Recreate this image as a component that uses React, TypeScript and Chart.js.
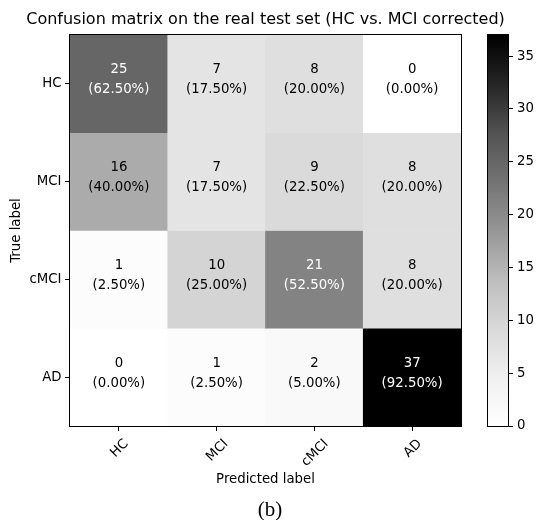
import React, { useEffect, useRef } from 'react';
import { Chart, registerables } from 'chart.js';

Chart.register(...registerables);

// ---- data ----
const predictedLabels = ['HC', 'MCI', 'cMCI', 'AD'];
const trueLabels = ['HC', 'MCI', 'cMCI', 'AD'];
const countsHC = [25, 7, 8, 0];
const countsMCI = [16, 7, 9, 8];
const countsCMCI = [1, 10, 21, 8];
const countsAD = [0, 1, 2, 37];
const colorbarTicks = [0, 5, 10, 15, 20, 25, 30, 35];

const rows = [countsHC, countsMCI, countsCMCI, countsAD];
const vmax = Math.max(...rows.flat());
const rowSums = rows.map((r) => r.reduce((a, b) => a + b, 0));

// matplotlib "Greys" colormap stops
const GREYS = [255, 240, 217, 189, 150, 115, 82, 37, 0];
function greys(t: number): string {
  const tt = Math.max(0, Math.min(1, t)) * (GREYS.length - 1);
  const i = Math.min(GREYS.length - 2, Math.floor(tt));
  const f = tt - i;
  const v = Math.round(GREYS[i] + (GREYS[i + 1] - GREYS[i]) * f);
  return `rgb(${v},${v},${v})`;
}

const FONT = 'DejaVu Sans';
const labelFont = { family: FONT, size: 13.3, lineHeight: 1.2 };

const framePlugin = {
  id: 'frame',
  afterDatasetsDraw(chart: any) {
    const { ctx, chartArea } = chart;
    const l = Math.round(chartArea.left) - 0.5;
    const t = Math.round(chartArea.top) - 0.5;
    const r = Math.round(chartArea.right) + 0.5;
    const b = Math.round(chartArea.bottom) + 0.5;
    ctx.save();
    ctx.strokeStyle = '#000';
    ctx.lineWidth = 1;
    ctx.strokeRect(l, t, r - l, b - t);
    ctx.restore();
  },
};

const cellTextPlugin = {
  id: 'cellText',
  afterDatasetsDraw(chart: any) {
    const { ctx } = chart;
    ctx.save();
    ctx.font = `13.3px "${FONT}"`;
    ctx.textAlign = 'center';
    ctx.textBaseline = 'middle';
    chart.data.datasets.forEach((ds: any, d: number) => {
      const meta = chart.getDatasetMeta(d);
      meta.data.forEach((bar: any, i: number) => {
        const { x, y, base } = bar.getProps(['x', 'y', 'base'], true);
        const cy = (y + base) / 2;
        const v = ds.counts[i];
        const pct = ((v / rowSums[d]) * 100).toFixed(2);
        ctx.fillStyle = v > vmax / 2 ? '#fff' : '#000';
        ctx.fillText(String(v), x, cy - 14);
        ctx.fillText(`(${pct}%)`, x, cy + 6);
      });
    });
    ctx.restore();
  },
};

// x tick labels rotated 45deg, bounding box centred on the tick (matplotlib style)
const xTickLabelPlugin = {
  id: 'xTickLabels',
  afterDraw(chart: any) {
    const { ctx } = chart;
    const xs = chart.scales.x;
    ctx.save();
    ctx.font = `13.3px "${FONT}"`;
    ctx.fillStyle = '#000';
    ctx.textAlign = 'right';
    ctx.textBaseline = 'alphabetic';
    const y0 = xs.top + 5 + 4.7;
    const k = Math.SQRT1_2;
    xs.ticks.forEach((t: any, i: number) => {
      const label = String(xs.getLabelForValue(t.value));
      const px = xs.getPixelForTick(i);
      const m = ctx.measureText(label);
      const asc = m.fontBoundingBoxAscent ?? 12.4;
      const desc = m.fontBoundingBoxDescent ?? 3.1;
      const h = asc + desc;
      const w = m.width;
      const ox = px + 0.5 * k * (w - h);
      ctx.save();
      ctx.translate(ox, y0);
      ctx.rotate(-Math.PI / 4);
      ctx.fillText(label, 0, asc);
      ctx.restore();
    });
    ctx.restore();
  },
};

function MainChart() {
  const ref = useRef<HTMLCanvasElement>(null);
  useEffect(() => {
    const chart = new Chart(ref.current as HTMLCanvasElement, {
      type: 'bar',
      data: {
        labels: predictedLabels,
        datasets: rows.map((row, r) => ({
          label: trueLabels[r],
          data: row.map(() => [r, r + 1]),
          counts: row,
          backgroundColor: row.map((v) => greys(v / vmax)),
          borderWidth: 0,
          barPercentage: 1,
          categoryPercentage: 1,
          yAxisID: 'y',
        })) as any,
      },
      options: {
        animation: false,
        responsive: false,
        maintainAspectRatio: false,
        events: [],
        layout: { padding: 0 },
        plugins: {
          legend: { display: false },
          tooltip: { enabled: false },
          title: {
            display: true,
            text: 'Confusion matrix on the real test set (HC vs. MCI corrected)',
            color: '#000',
            font: { family: FONT, size: 16, weight: 'normal', lineHeight: '19px' } as any,
            padding: { top: 10, bottom: 6 },
          },
        },
        scales: {
          x: {
            type: 'category',
            stacked: true,
            offset: true,
            grid: {
              display: true,
              drawOnChartArea: false,
              drawTicks: true,
              tickLength: 5,
              tickColor: '#000',
              tickWidth: 1,
              offset: false,
            },
            border: { display: false },
            ticks: { display: false },
            title: {
              display: true,
              text: 'Predicted label',
              color: '#000',
              font: labelFont,
              padding: { top: 0, bottom: 12 },
            },
            afterFit: (s: any) => {
              s.height = 74;
            },
          },
          y: {
            type: 'linear',
            min: 0,
            max: trueLabels.length,
            reverse: true,
            stacked: false,
            afterBuildTicks: (s: any) => {
              s.ticks = trueLabels.map((_, i) => ({ value: i + 0.5 }));
            },
            grid: {
              display: true,
              drawOnChartArea: false,
              drawTicks: true,
              tickLength: 5,
              tickColor: '#000',
              tickWidth: 1,
            },
            border: { display: false },
            ticks: {
              padding: 3.5,
              color: '#000',
              font: labelFont,
              callback: (v: any) => trueLabels[Math.floor(Number(v))],
            },
            title: {
              display: true,
              text: 'True label',
              color: '#000',
              font: labelFont,
              padding: { top: 9, bottom: 0 },
            },
            afterFit: (s: any) => {
              s.width = 70;
            },
          },
          yR: {
            type: 'linear',
            position: 'right',
            display: true,
            grid: { display: false, drawTicks: false },
            border: { display: false },
            ticks: { display: false },
            afterFit: (s: any) => {
              s.width = 70;
            },
          },
        },
      } as any,
      plugins: [framePlugin, cellTextPlugin, xTickLabelPlugin],
    });
    return () => chart.destroy();
  }, []);
  return (
    <canvas
      ref={ref}
      width={531}
      height={500}
      style={{ position: 'absolute', left: 0, top: 0, width: 531, height: 500 }}
    />
  );
}

function ColorBar() {
  const ref = useRef<HTMLCanvasElement>(null);
  useEffect(() => {
    const chart = new Chart(ref.current as HTMLCanvasElement, {
      type: 'bar',
      data: {
        labels: [''],
        datasets: [
          {
            data: [[0, vmax]],
            borderWidth: 0,
            barPercentage: 1,
            categoryPercentage: 1,
            backgroundColor: (c: any) => {
              const area = c.chart.chartArea;
              if (!area) return '#888';
              const g = c.chart.ctx.createLinearGradient(0, area.bottom, 0, area.top);
              GREYS.forEach((_, i) => g.addColorStop(i / (GREYS.length - 1), greys(i / (GREYS.length - 1))));
              return g;
            },
          },
        ] as any,
      },
      options: {
        animation: false,
        responsive: false,
        maintainAspectRatio: false,
        events: [],
        layout: { padding: { left: 18, right: 0, top: 35, bottom: 74 } },
        plugins: { legend: { display: false }, tooltip: { enabled: false } },
        scales: {
          x: { display: false, offset: true },
          y: {
            type: 'linear',
            position: 'right',
            min: 0,
            max: vmax,
            afterBuildTicks: (s: any) => {
              s.ticks = colorbarTicks.map((v) => ({ value: v }));
            },
            grid: {
              display: true,
              drawOnChartArea: false,
              drawTicks: true,
              tickLength: 5,
              tickColor: '#000',
              tickWidth: 1,
            },
            border: { display: false },
            ticks: { padding: 4, color: '#000', font: labelFont },
            afterFit: (s: any) => {
              s.width = 30;
            },
          },
        },
      } as any,
      plugins: [framePlugin],
    });
    return () => chart.destroy();
  }, []);
  return (
    <canvas
      ref={ref}
      width={68}
      height={500}
      style={{ position: 'absolute', left: 470, top: 0, width: 68, height: 500 }}
    />
  );
}

export default function App() {
  return (
    <div style={{ position: 'absolute', left: 0, top: 0, width: 538, height: 520, background: '#fff', overflow: 'hidden' }}>
      <MainChart />
      <ColorBar />
      <div
        style={{
          position: 'absolute',
          left: 0,
          top: 498,
          width: 540,
          textAlign: 'center',
          fontFamily: '"Liberation Serif", "Times New Roman", serif',
          fontSize: 21,
          lineHeight: '22px',
          color: '#000',
        }}
      >
        (b)
      </div>
    </div>
  );
}
